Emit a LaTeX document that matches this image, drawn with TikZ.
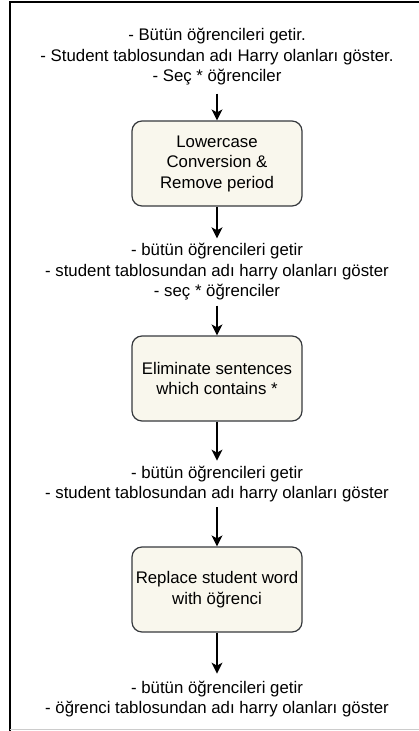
\documentclass[tikz,border=0pt]{standalone}
\usepackage{fontspec}
\setmainfont{Liberation Sans}
\usetikzlibrary{arrows.meta}
\definecolor{boxfill}{HTML}{F9F7ED}
\definecolor{boxline}{HTML}{36393D}
\begin{document}
\begin{tikzpicture}[x=1pt,y=-1pt,
  txt/.style={align=center,font=\fontsize{16.8}{20.5}\selectfont,inner xsep=2pt,inner ysep=6pt},
  stepbox/.style={draw=boxline,fill=boxfill,line width=1.2pt,rounded corners=10pt,
    minimum width=170pt,minimum height=85pt,align=center,
    font=\fontsize{16.8}{20.5}\selectfont,inner sep=0pt},
  flow/.style={draw=black,line width=1.3pt,-{Stealth[length=11pt,width=11pt,inset=3pt]}}]
\useasboundingbox (0,0) rectangle (419,731);
% frame
\draw[line width=1.4pt] (10,731) -- (10,2) -- (419,2);
\draw[line width=1pt,black!20] (10,729.5) -- (419,729.5);

\node[txt,inner ysep=8pt] (t1) at (217,57) {- Bütün öğrencileri getir.\\- Student tablosundan adı Harry olanları göster.\\- Seç * öğrenciler};
\node[stepbox] (b1) at (217,163.5) {Lowercase\\Conversion \&\\Remove period};
\node[txt,inner ysep=5pt] (t2) at (217,272) {- bütün öğrencileri getir\\- student tablosundan adı harry olanları göster\\- seç * öğrenciler};
\node[stepbox] (b2) at (217,378.5) {Eliminate sentences\\which contains *};
\node[txt,inner ysep=5pt] (t3) at (217,484) {- bütün öğrencileri getir\\- student tablosundan adı harry olanları göster};
\node[stepbox] (b3) at (217,589.5) {Replace student word\\with öğrenci};
\node[txt,inner ysep=7pt] (t4) at (217,699) {- bütün öğrencileri getir\\- öğrenci tablosundan adı harry olanları göster};

\draw[flow] (t1) -- (b1);
\draw[flow] (b1) -- (t2);
\draw[flow] (t2) -- (b2);
\draw[flow] (b2) -- (t3);
\draw[flow] (t3) -- (b3);
\draw[flow] (b3) -- (t4);
\end{tikzpicture}
\end{document}
